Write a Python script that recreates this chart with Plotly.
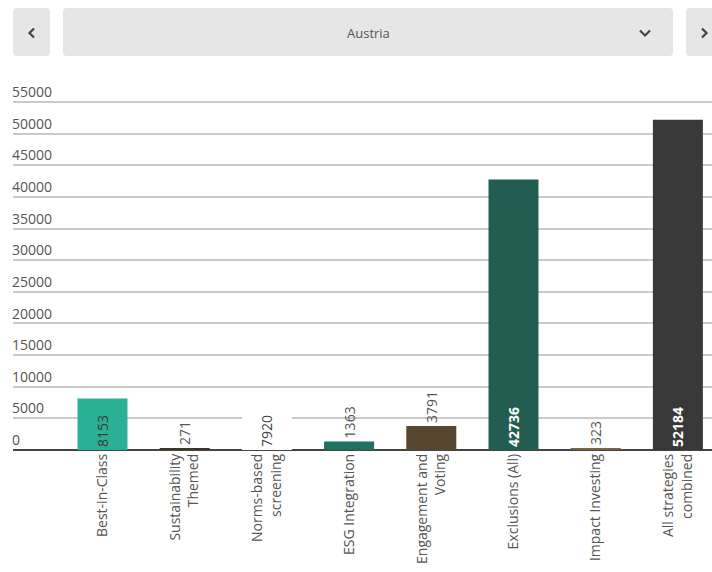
import plotly.graph_objects as go

# ---- data ----
categories = ["Best-in-Class", "Sustainability<br>Themed", "Norms-based<br>screening",
              "ESG Integration", "Engagement and<br>Voting", "Exclusions (All)",
              "Impact Investing", "All strategies<br>combined"]
values = [8153, 271, 7920, 1363, 3791, 42736, 323, 52184]
country = "Austria"
y_ticks = [0, 5000, 10000, 15000, 20000, 25000, 30000, 35000, 40000, 45000, 50000, 55000]

# ---- styles ----
bar_colors = ["#2bb096", "#3d3528", "#ffffff", "#1f7060", "#574630", "#235c50", "#7a6448", "#383838"]
text_pos = ["inside", "outside", "inside", "outside", "outside", "inside", "outside", "inside"]
text_colors = ["#3a3a3a", "#555555", "#444444", "#555555", "#555555", "#ffffff", "#555555", "#ffffff"]
text_bold = [False, False, False, False, False, True, False, True]

FONT = "Open Sans"
W, H = 712, 572
ML, MR, MT, MB = 13, 0, 80, 122
PW, PH = W - ML - MR, H - MT - MB
Y_TOP = 55000 * PH / (450 - 102)   # 55000 gridline sits at y=102 px

def px(x):
    return (x - ML) / PW

def py(y):
    return (H - MB - y) / PH

def rrect(x0, y0, x1, y1, r=4):
    rx, ry = r / PW, r / PH
    X0, X1, Y0, Y1 = px(x0), px(x1), py(y0), py(y1)  # Y0 top, Y1 bottom
    return (f"M {X0+rx},{Y0} L {X1-rx},{Y0} Q {X1},{Y0} {X1},{Y0-ry} "
            f"L {X1},{Y1+ry} Q {X1},{Y1} {X1-rx},{Y1} L {X0+rx},{Y1} "
            f"Q {X0},{Y1} {X0},{Y1+ry} L {X0},{Y0-ry} Q {X0},{Y0} {X0+rx},{Y0} Z")

def poly(points):
    return "M " + " L ".join(f"{px(a)},{py(b)}" for a, b in points)

texts = [f"<b>{v}</b>" if b else str(v) for v, b in zip(values, text_bold)]

fig = go.Figure(go.Bar(
    x=list(range(len(categories))),
    y=values,
    width=0.608,
    marker=dict(color=bar_colors, line=dict(width=0)),
    text=texts,
    textposition=text_pos,
    textangle=-90,
    insidetextanchor="start",
    insidetextfont=dict(family=FONT, size=14, color=text_colors),
    outsidetextfont=dict(family=FONT, size=14, color="#555555"),
    cliponaxis=False,
    hoverinfo="skip",
))

center0, step = 102.5, 82.2
fig.update_layout(
    width=W, height=H,
    margin=dict(l=ML, r=MR, t=MT, b=MB, pad=0),
    paper_bgcolor="white", plot_bgcolor="white",
    font=dict(family=FONT, size=14, color="#555555"),
    showlegend=False,
    bargap=0.4,
    xaxis=dict(
        range=[(ML - center0) / step, (W - center0) / step],
        tickmode="array", tickvals=list(range(len(categories))), ticktext=categories,
        tickangle=-90, showgrid=False, zeroline=False, showline=False,
        ticks="", tickfont=dict(family=FONT, size=14, color="#555555"),
        fixedrange=True,
    ),
    yaxis=dict(
        range=[0, Y_TOP], tickmode="array", tickvals=y_ticks,
        ticktext=[str(t) for t in y_ticks],
        ticklabelposition="inside top",
        ticklabelstandoff=-4,
        showgrid=True, gridcolor="#cacaca", gridwidth=2,
        zeroline=True, zerolinecolor="#444444", zerolinewidth=2,
        showline=False, ticks="",
        tickfont=dict(family=FONT, size=14, color="#555555"),
        fixedrange=True,
    ),
)

shapes = [
    dict(type="path", xref="paper", yref="paper", path=rrect(13, 8, 50, 56),
         fillcolor="#e6e6e6", line=dict(width=0), layer="below"),
    dict(type="path", xref="paper", yref="paper", path=rrect(63, 8, 673, 56),
         fillcolor="#e6e6e6", line=dict(width=0), layer="below"),
    dict(type="path", xref="paper", yref="paper", path=rrect(686, 8, 724, 56),
         fillcolor="#e6e6e6", line=dict(width=0), layer="below"),
    dict(type="path", xref="paper", yref="paper", path=poly([(34, 28.5), (29.5, 33), (34, 37.5)]),
         line=dict(color="#444444", width=2.2)),
    dict(type="path", xref="paper", yref="paper", path=poly([(640, 30.5), (645, 35.5), (650, 30.5)]),
         line=dict(color="#444444", width=2.2)),
    dict(type="path", xref="paper", yref="paper", path=poly([(702, 28.5), (706.5, 33), (702, 37.5)]),
         line=dict(color="#444444", width=2.2)),
]
fig.update_layout(shapes=shapes)

fig.add_annotation(x=px(368), y=py(33), xref="paper", yref="paper", text=country,
                   showarrow=False, xanchor="center", yanchor="middle",
                   font=dict(family=FONT, size=13, color="#555555"))

fig.write_html("out.html")
